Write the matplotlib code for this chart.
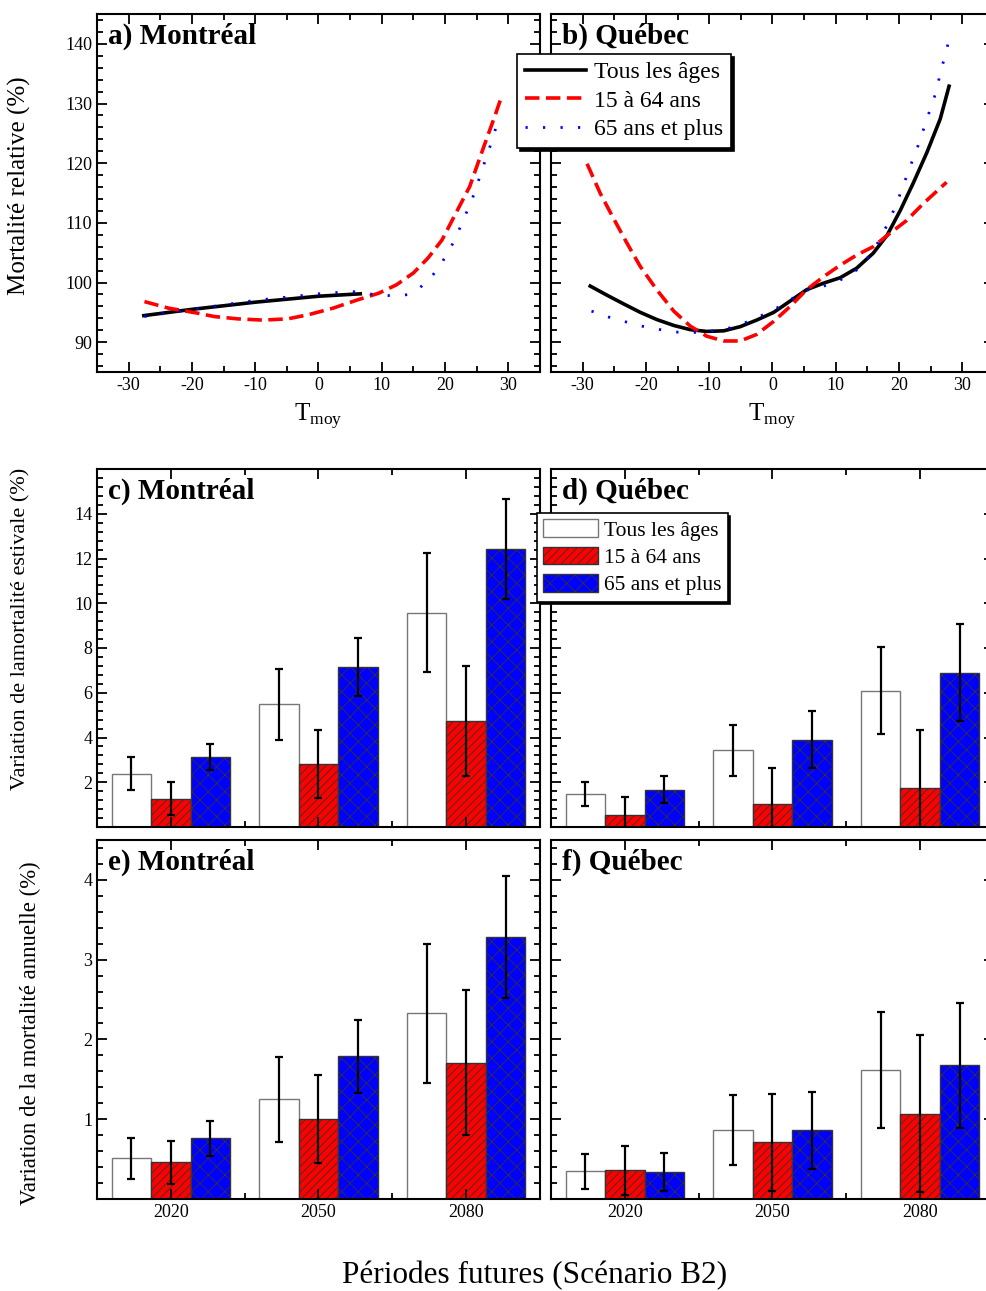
import matplotlib
matplotlib.use('Agg')
import numpy as np
import matplotlib.pyplot as plt
from matplotlib.ticker import MultipleLocator
from matplotlib.lines import Line2D
from matplotlib.patches import Patch

plt.rcParams['font.family'] = ['Liberation Serif', 'DejaVu Serif']
plt.rcParams['axes.unicode_minus'] = False
plt.rcParams['mathtext.fontset'] = 'custom'
plt.rcParams['mathtext.rm'] = 'Liberation Serif'
plt.rcParams['hatch.linewidth'] = 0.6

# --- courbes de mortalité relative (panneaux a, b) ---
mtl_all_t = [-27.6, -20, -10, 0, 6.6]
mtl_all_y = [94.45, 95.5, 96.7, 97.7, 98.1]
mtl_1564_t = [-27.5, -23.7, -19.3, -16.5, -12.7, -8.8, -4.9, -1.6, 2.3, 6.2, 9.5, 12.3,
              15.0, 17.3, 19.5, 21.7, 23.9, 26.1, 27.8, 29.0]
mtl_1564_y = [96.8, 95.7, 94.9, 94.3, 93.9, 93.7, 93.9, 94.6, 95.7, 97.1, 98.2, 99.6,
              101.6, 104.1, 107.1, 111.6, 116.1, 122.7, 127.7, 131.4]
mtl_65_t = [-27.5, -20, -10, 0, 5.3, 7.8, 10, 12.5, 14.2, 16.1, 17.8, 19.0, 20.1, 21.2,
            22.2, 23.2, 24.2, 25.0, 25.8, 26.6, 27.5, 28.2]
mtl_65_y = [94.3, 95.5, 97.0, 98.1, 98.5, 98.1, 97.9, 97.7, 98.0, 99.2, 100.9, 102.5, 104.4,
            106.5, 108.8, 111.3, 113.7, 116.2, 118.7, 121.3, 124.0, 126.6]

qc_all_t = [-28.8, -26.2, -23.5, -20.9, -18.3, -15.6, -13.0, -10.4, -7.7, -5.1, -2.5, 0.2,
            2.8, 5.4, 8.1, 10.7, 13.3, 15.9, 18.1, 20.2, 22.3, 24.4, 26.5, 27.9]
qc_all_y = [99.4, 97.9, 96.4, 95.0, 93.8, 92.8, 92.1, 91.8, 91.9, 92.6, 93.7, 95.0,
            96.9, 98.8, 99.9, 100.8, 102.4, 104.9, 107.9, 112.1, 116.8, 121.8, 127.4, 132.9]
qc_1564_t = [-29.3, -27.2, -25.1, -23.0, -20.9, -18.3, -15.6, -13.0, -10.4, -7.7, -5.1, -2.5,
             0.2, 2.8, 5.4, 8.1, 10.7, 13.3, 15.9, 18.5, 21.2, 23.8, 27.5]
qc_1564_y = [119.9, 114.9, 110.7, 106.6, 102.7, 98.8, 95.2, 92.7, 91.0, 90.2, 90.2, 91.3,
             93.5, 96.0, 98.8, 101.0, 102.9, 104.6, 106.0, 108.2, 110.4, 113.2, 116.8]
qc_65_t = [-28.6, -26.2, -23.5, -21.2, -18.8, -15.6, -12.7, -10.4, -7.7, -5.1, -2.5, 0.2,
           2.8, 5.4, 8.1, 10.7, 13.3, 15.9, 18.5, 20.2, 21.7, 23.1, 24.4, 25.2, 26.0, 26.5,
           27.2, 27.8]
qc_65_y = [95.2, 94.3, 93.5, 92.8, 92.3, 91.7, 91.6, 91.8, 92.1, 92.9, 94.1, 95.4,
           97.1, 98.7, 99.4, 100.4, 102.1, 105.2, 110.4, 114.9, 119.3, 123.2, 127.4, 129.9,
           132.4, 135.2, 137.7, 140.3]

# --- variations de mortalité par période (panneaux c-f) ---
periods = ['2020', '2050', '2080']
groups = ['Tous les âges', '15 à 64 ans', '65 ans et plus']

ete_mtl = [[2.39, 5.48, 9.58], [1.27, 2.81, 4.72], [3.13, 7.15, 12.43]]
ete_mtl_err = [[0.74, 1.57, 2.67], [0.74, 1.51, 2.46], [0.60, 1.30, 2.25]]
ete_qc = [[1.48, 3.43, 6.10], [0.55, 1.04, 1.75], [1.67, 3.91, 6.90]]
ete_qc_err = [[0.55, 1.15, 1.95], [0.78, 1.60, 2.58], [0.59, 1.26, 2.16]]

an_mtl = [[0.51, 1.25, 2.33], [0.46, 1.00, 1.71], [0.76, 1.79, 3.28]]
an_mtl_err = [[0.26, 0.535, 0.87], [0.27, 0.555, 0.905], [0.22, 0.46, 0.765]]
an_qc = [[0.35, 0.86, 1.62], [0.36, 0.71, 1.07], [0.34, 0.86, 1.675]]
an_qc_err = [[0.22, 0.44, 0.725], [0.31, 0.61, 0.98], [0.235, 0.48, 0.785]]

bar_face = ['white', '#ff0000', '#0000ff']
bar_edge = ['#777777', '#333333', '#333333']
bar_hatch = [None, '////', 'xx']

fig = plt.figure(figsize=(9.87, 12.91), dpi=100)
W, H = 987.0, 1291.0


def add_ax(x0, y0, x1, y1):
    # pixel box -> figure coords
    return fig.add_axes([x0 / W, 1 - y1 / H, (x1 - x0) / W, (y1 - y0) / H])


def frame(ax):
    for s in ax.spines.values():
        s.set_linewidth(1.5)
    ax.tick_params(which='both', direction='in', top=True, right=True, width=1.3, labelsize=13)
    ax.tick_params(which='major', length=7)
    ax.tick_params(which='minor', length=4)


def line_panel(ax, curves, title, left):
    t_all, y_all, t_1564, y_1564, t_65, y_65 = curves
    ax.plot(t_all, y_all, color='black', lw=2.6)
    ax.plot(t_1564, y_1564, color='#ff0000', lw=2.6, ls=(0, (4, 1.8)))
    ax.plot(t_65, y_65, color='#0000ff', lw=2.0, ls=(0, (0.8, 5.5)))
    ax.set_xlim(-35, 35)
    ax.set_ylim(85, 145)
    ax.set_xticks(range(-30, 31, 10))
    ax.xaxis.set_minor_locator(MultipleLocator(5))
    ax.set_yticks(range(90, 141, 10))
    ax.yaxis.set_minor_locator(MultipleLocator(2))
    frame(ax)
    ax.set_xlabel(r'$\mathrm{T}_{\mathrm{moy}}$', fontsize=18, labelpad=5)
    if left:
        ax.set_ylabel('Mortalité relative (%)', fontsize=18)
        ax.yaxis.set_label_coords(-0.15, 0.52)
    else:
        ax.tick_params(labelleft=False)
    ax.text(0.025, 0.975, title, transform=ax.transAxes, fontsize=21, fontweight='bold',
            va='top', ha='left')


def bar_panel(ax, vals, errs, title, ymax, major, minor, left, bottom):
    x = np.arange(1, len(periods) + 1)
    w = 0.8 / 3
    for i in range(3):
        ax.bar(x + (i - 1) * w, vals[i], w, color=bar_face[i], edgecolor=bar_edge[i],
               hatch=bar_hatch[i], lw=1.0, yerr=errs[i], capsize=3,
               error_kw=dict(elinewidth=1.6, capthick=1.6, ecolor='black'))
    ax.set_xlim(0.5, 3.5)
    ax.set_ylim(0, ymax)
    ax.set_xticks(x)
    ax.set_xticklabels(periods)
    ax.xaxis.set_minor_locator(MultipleLocator(0.5))
    ax.set_yticks(np.arange(major, ymax - 0.01, major))
    ax.yaxis.set_minor_locator(MultipleLocator(minor))
    frame(ax)
    if not left:
        ax.tick_params(labelleft=False)
    if not bottom:
        ax.tick_params(labelbottom=False)
    ax.text(0.025, 0.975, title, transform=ax.transAxes, fontsize=21, fontweight='bold',
            va='top', ha='left')


ax_a = add_ax(97, 14, 540, 372)
ax_b = add_ax(551, 14, 994, 372)
line_panel(ax_a, (mtl_all_t, mtl_all_y, mtl_1564_t, mtl_1564_y, mtl_65_t, mtl_65_y),
           'a) Montréal', True)
line_panel(ax_b, (qc_all_t, qc_all_y, qc_1564_t, qc_1564_y, qc_65_t, qc_65_y),
           'b) Québec', False)

ax_c = add_ax(97, 469, 540, 827)
ax_d = add_ax(551, 469, 994, 827)
ax_e = add_ax(97, 840, 540, 1199)
ax_f = add_ax(551, 840, 994, 1199)
bar_panel(ax_c, ete_mtl, ete_mtl_err, 'c) Montréal', 16, 2, 0.4, True, False)
bar_panel(ax_d, ete_qc, ete_qc_err, 'd) Québec', 16, 2, 0.4, False, False)
bar_panel(ax_e, an_mtl, an_mtl_err, 'e) Montréal', 4.5, 1, 0.2, True, True)
bar_panel(ax_f, an_qc, an_qc_err, 'f) Québec', 4.5, 1, 0.2, False, True)

ax_c.set_ylabel('Variation de lamortalité estivale (%)', fontsize=16)
ax_c.yaxis.set_label_coords(-0.15, 0.553)
ax_e.set_ylabel('Variation de la mortalité annuelle (%)', fontsize=16.4)
ax_e.yaxis.set_label_coords(-0.127, 0.462)

# legends span the two columns
line_handles = [Line2D([], [], color='black', lw=2.6),
                Line2D([], [], color='#ff0000', lw=2.6, ls=(0, (4, 1.8))),
                Line2D([], [], color='#0000ff', lw=2.0, ls=(0, (0.8, 5.5)))]
leg1 = fig.legend(line_handles, groups, loc='upper left', bbox_to_anchor=(517 / W, 1 - 54 / H),
                  fontsize=17, handlelength=2.6, handletextpad=0.35, labelspacing=0.3,
                  borderpad=0.32, borderaxespad=0, fancybox=False, framealpha=1,
                  edgecolor='black', shadow={'color': 'black', 'alpha': 1})
leg1.get_frame().set_linewidth(1.2)

bar_handles = [Patch(facecolor=bar_face[i], edgecolor=bar_edge[i], hatch=bar_hatch[i])
               for i in range(3)]
leg2 = fig.legend(bar_handles, groups, loc='upper left', bbox_to_anchor=(537 / W, 1 - 513 / H),
                  fontsize=15.5, handlelength=2.55, handleheight=0.88, handletextpad=0.25,
                  labelspacing=0.28, borderpad=0.3, borderaxespad=0, fancybox=False,
                  framealpha=1, edgecolor='black', shadow={'color': 'black', 'alpha': 1})
leg2.get_frame().set_linewidth(1.2)

fig.text(535 / W, 1 - 1276 / H, 'Périodes futures (Scénario B2)', fontsize=22.5,
         ha='center', va='center')

fig.savefig('out.png', dpi=100)
